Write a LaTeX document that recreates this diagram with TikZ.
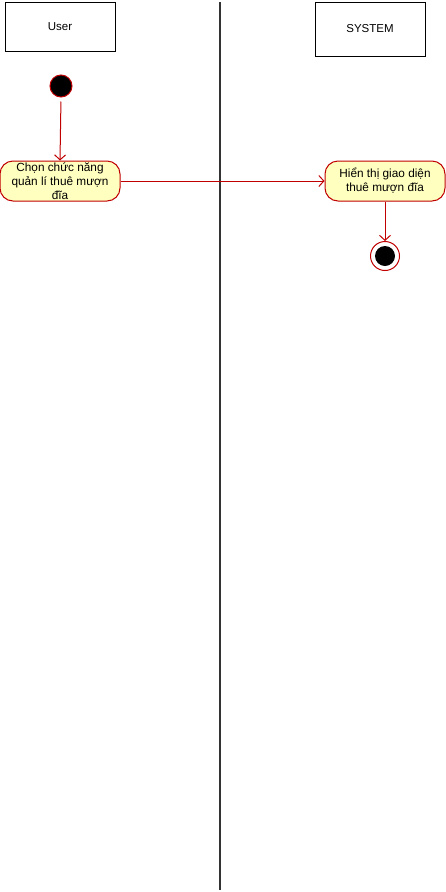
\documentclass[tikz,border=0pt]{standalone}
\usepackage{fontspec}
\setmainfont{Liberation Sans}
\usetikzlibrary{arrows.meta,positioning}
\definecolor{actfill}{HTML}{FFFFC0}
\definecolor{actline}{HTML}{C00000}

\begin{document}
\begin{tikzpicture}[
    x=1pt, y=-1pt,
    lanehead/.style={rectangle, draw, line width=1pt, minimum width=110pt, font=\fontsize{11.5}{13}\selectfont},
    action/.style={rectangle, rounded corners=13pt, draw=actline, line width=1pt, fill=actfill, minimum width=120pt, minimum height=40pt, align=center, inner sep=1pt, font=\fontsize{11.8}{14.2}\selectfont},
    flow/.style={-{Straight Barb[length=5pt, width=11pt]}, actline, line width=1pt},
    >=Stealth
]
    \useasboundingbox (0,0) rectangle (446,892);

    % Lanes
    \node[lanehead, minimum height=49pt] (user) at (60,26.5) {User};
    \node[lanehead, minimum height=54pt] (sys) at (370,29) {SYSTEM};
    \coordinate (divtop) at (220,2);
    \coordinate (divbot) at (220,890);
    \draw[line width=2pt, black!80] (divtop) -- (divbot);

    % User side
    \node[circle, fill=black, draw=actline, line width=1pt, minimum size=22pt, inner sep=0pt] (start) at (61,86) {};
    \node[action] (choose) at (60,181) {Chọn chức năng\\quản lí thuê mượn\\đĩa};

    % System side
    \node[action] (show) at (385,181) {Hiển thị giao diện\\thuê mượn đĩa};
    \node[circle, draw=actline, line width=1pt, fill=white, minimum size=29pt, inner sep=0pt] (end) at (385,256) {};
    \node[circle, fill=black, minimum size=20pt, inner sep=0pt] (enddot) at (end.center) {};

    % Flows
    \draw[flow, shorten <=4pt] (start.south) -- (choose.north);
    \draw[flow] (choose.east) -- (show.west);
    \draw[flow] (show.south) -- (end.north);
\end{tikzpicture}
\end{document}
